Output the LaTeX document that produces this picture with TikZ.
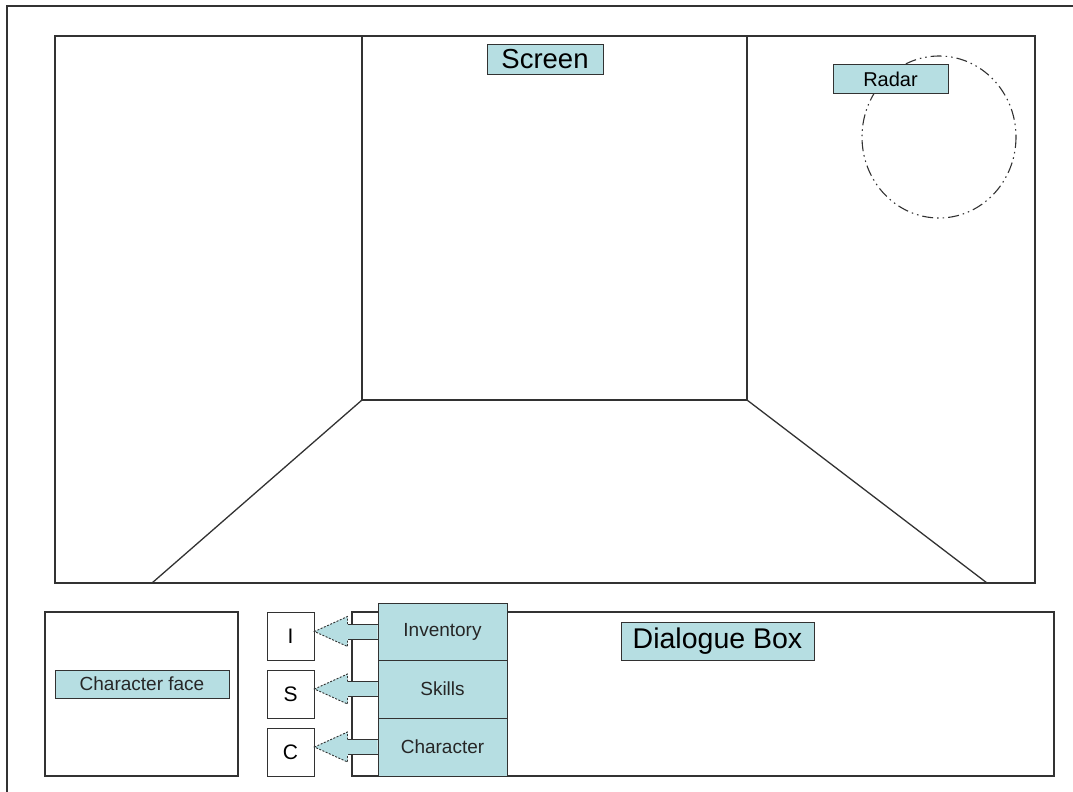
\documentclass[tikz,border=0pt]{standalone}
\usepackage{fontspec}
\setmainfont{Liberation Sans}
\usetikzlibrary{calc}
\definecolor{linec}{RGB}{50,50,50}
\definecolor{tealfill}{RGB}{182,222,226}
\tikzset{
  frame/.style={draw=linec, line width=1.3pt},
  lbl/.style={draw=linec, fill=tealfill, line width=1pt, inner sep=0pt, text=black},
  tab/.style={draw=linec, fill=tealfill, line width=1pt, inner sep=0pt, minimum width=129pt, text=black!85, font=\fontsize{19}{23}\selectfont},
  letterbox/.style={draw=linec, fill=white, line width=1pt, inner sep=0pt, minimum width=47pt, minimum height=48pt, font=\fontsize{21}{25}\selectfont},
  shaftline/.style={draw=linec, line width=0.9pt},
  headline/.style={draw=linec, line width=0.9pt, dash pattern=on 2pt off 1.5pt},
  radarline/.style={draw=linec, line width=1.1pt, dash pattern=on 11pt off 4pt on 1.5pt off 4pt on 1.5pt off 4pt},
}
\begin{document}
\begin{tikzpicture}[x=1pt,y=-1pt]
\useasboundingbox (0,0) rectangle (1073,792);
% outer frame (only top and left visible)
\draw[frame] (7,792) -- (7,6) -- (1073,6);
% screen
\node[frame, minimum width=980pt, minimum height=547pt, inner sep=0pt] (screen) at (545,309.5) {};
\coordinate (bwtl) at (362,36);
\coordinate (bwtr) at (747,36);
\coordinate (bwbl) at (362,400);
\coordinate (bwbr) at (747,400);
\coordinate (flL) at (152,583);
\coordinate (flR) at (987,583);
\draw[frame] (bwtl) -- (bwbl) -- (bwbr) -- (bwtr);
\draw[frame] (bwbl) -- (flL);
\draw[frame] (bwbr) -- (flR);
\node[lbl, minimum width=116pt, minimum height=29pt, font=\fontsize{27.5}{31}\selectfont] (screenlbl) at (545,59.5) {Screen};
% radar
\draw[radarline] (939,137) ellipse [x radius=77, y radius=81];
\node[lbl, minimum width=115pt, minimum height=28pt, font=\fontsize{20}{24}\selectfont] (radarlbl) at (890.5,79) {Radar};
% character face
\node[frame, minimum width=193pt, minimum height=164pt, inner sep=0pt] (facebox) at (141.5,694) {};
\node[lbl, minimum width=174pt, minimum height=28pt, font=\fontsize{19}{23}\selectfont, text=black!85] (facelbl) at (142,684) {Character face};
% dialogue box
\node[frame, minimum width=702pt, minimum height=164pt, inner sep=0pt] (dialog) at (703,694) {};
\node[lbl, minimum width=193pt, minimum height=38pt, font=\fontsize{28.5}{32}\selectfont] (dlglbl) at (717.5,641) {Dialogue Box};
% letter boxes
\node[letterbox] (I) at (290.5,636) {I};
\node[letterbox] (S) at (290.5,694) {S};
\node[letterbox] (C) at (290.5,752) {C};
% tabs
\node[tab, minimum height=57pt] (inv) at (442.5,631.5) {Inventory};
\node[tab, minimum height=58pt] (skl) at (442.5,689) {Skills};
\node[tab, minimum height=58pt] (chr) at (442.5,747) {Character};
% block arrows from tabs to letter boxes
\foreach \b/\l in {inv/I, skl/S, chr/C}{
  \coordinate (tip-\l) at (\l.east |- \b.west);
  \coordinate (st-\l) at ($(\b.west)+(0,-7.5)$);
  \coordinate (sb-\l) at ($(\b.west)+(0,7.5)$);
  \coordinate (ht-\l) at ($(tip-\l)+(33,-7.5)$);
  \coordinate (hb-\l) at ($(tip-\l)+(33,7.5)$);
  \coordinate (hht-\l) at ($(tip-\l)+(33,-15)$);
  \coordinate (hhb-\l) at ($(tip-\l)+(33,15)$);
  \fill[tealfill] (st-\l) -- (ht-\l) -- (hht-\l) -- (tip-\l) -- (hhb-\l) -- (hb-\l) -- (sb-\l) -- cycle;
  \draw[shaftline] (st-\l) -- (ht-\l);
  \draw[shaftline] (sb-\l) -- (hb-\l);
  \draw[headline] (ht-\l) -- (hht-\l) -- (tip-\l) -- (hhb-\l) -- (hb-\l);
}
\end{tikzpicture}
\end{document}
